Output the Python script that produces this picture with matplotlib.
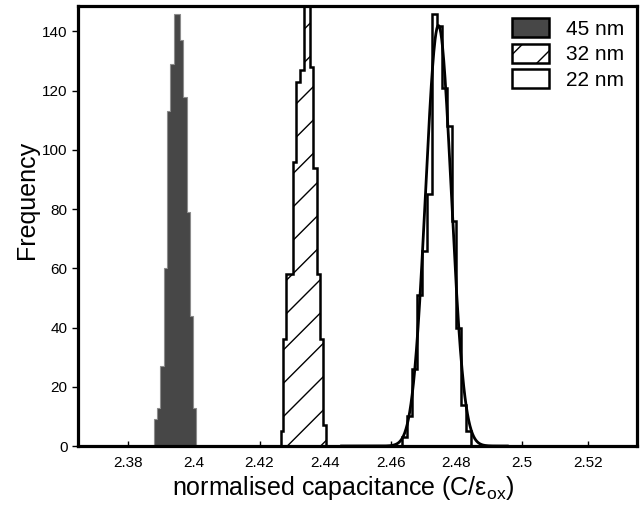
import matplotlib
matplotlib.use('Agg')
import matplotlib.pyplot as plt
from matplotlib.patches import Patch
import numpy as np

plt.rcParams['font.family'] = ['Liberation Sans', 'DejaVu Sans']
plt.rcParams['mathtext.fontset'] = 'custom'
plt.rcParams['mathtext.rm'] = 'Liberation Sans'
plt.rcParams['mathtext.it'] = 'Liberation Sans:italic'
plt.rcParams['hatch.linewidth'] = 1.0

# ---- data ----
# 45 nm histogram (bin width 0.001)
edges_45 = [2.3878, 2.3888, 2.3898, 2.3908, 2.3918, 2.3928, 2.3938,
            2.3948, 2.3958, 2.3968, 2.3978, 2.3988, 2.3998, 2.4008]
counts_45 = [9, 13, 27, 60, 113, 129, 146, 146, 137, 118, 79, 44, 13]

# 32 nm histogram
edges_32 = [2.4265, 2.4272, 2.4282, 2.4302, 2.4312, 2.4324, 2.4337,
            2.4354, 2.4363, 2.4376, 2.4383, 2.4394, 2.4404]
counts_32 = [5, 36, 58, 96, 123, 127, 160, 128, 94, 58, 36, 7]

# 22 nm histogram (bin width 0.0015)
edges_22 = [2.4635, 2.4650, 2.4665, 2.4680, 2.4695, 2.4710, 2.4725,
            2.4740, 2.4755, 2.4770, 2.4785, 2.4800, 2.4815, 2.4830, 2.4845]
counts_22 = [3, 10, 26, 51, 66, 85, 146, 142, 121, 108, 76, 40, 14, 5]

# normal fit drawn over the 22 nm histogram
fit_22_mean = 2.4745
fit_22_sigma = 0.0039
fit_22_peak = 142
fit_22_start = 2.445
fit_22_end = 2.4955

series_labels = ['45 nm', '32 nm', '22 nm']
xticks = [2.38, 2.40, 2.42, 2.44, 2.46, 2.48, 2.50, 2.52]
xtick_labels = ['2.38', '2.4', '2.42', '2.44', '2.46', '2.48', '2.5', '2.52']
yticks = [0, 20, 40, 60, 80, 100, 120, 140]

# ---- figure ----
fig = plt.figure(figsize=(6.4, 5.05), dpi=100)
ax = fig.add_axes([78 / 640, 59 / 505, 559 / 640, 440 / 505])

dark = '#474747'
ax.stairs(counts_45, edges_45, fill=True, facecolor=dark,
          edgecolor='#8c8c8c', linewidth=0.8, zorder=2)
ax.stairs(counts_32, edges_32, fill=True, facecolor='white',
          edgecolor='black', hatch='/', linewidth=1.8, zorder=2)
ax.stairs(counts_22, edges_22, fill=True, facecolor='white',
          edgecolor='black', linewidth=1.8, zorder=2)

xf = np.linspace(fit_22_start, fit_22_end, 400)
yf = fit_22_peak * np.exp(-0.5 * ((xf - fit_22_mean) / fit_22_sigma) ** 2)
ax.plot(xf, yf, color='black', linewidth=2.0, zorder=3)

ax.set_xlim(2.3647, 2.535)
ax.set_ylim(0, 148.6)

ax.set_xticks(xticks)
ax.set_xticklabels(xtick_labels)
ax.set_yticks(yticks)
ax.tick_params(axis='x', direction='in', length=3.5, width=1.0,
               labelsize=11, pad=7)
ax.tick_params(axis='y', direction='out', length=4.5, width=1.0,
               labelsize=11, pad=3)
ax.tick_params(top=False, right=False)

for sp in ax.spines.values():
    sp.set_linewidth(2.3)
    sp.set_zorder(5)

ax.set_ylabel('Frequency', fontsize=18)
ax.yaxis.set_label_coords(-0.07, 0.56)
ax.set_xlabel('normalised capacitance (C/ε$_{\\mathrm{ox}}$)', fontsize=18)
ax.xaxis.set_label_coords(0.474, -0.064)

handles = [
    Patch(facecolor=dark, edgecolor='black', linewidth=1.8),
    Patch(facecolor='white', edgecolor='black', hatch='/', linewidth=1.8),
    Patch(facecolor='white', edgecolor='black', linewidth=1.8),
]
ax.legend(handles, series_labels, loc='upper right', frameon=False,
          fontsize=15, handlelength=1.75, handleheight=1.0,
          labelspacing=0.24, handletextpad=0.85, borderaxespad=0.3,
          borderpad=0.3)

fig.savefig('out.png', dpi=100)
